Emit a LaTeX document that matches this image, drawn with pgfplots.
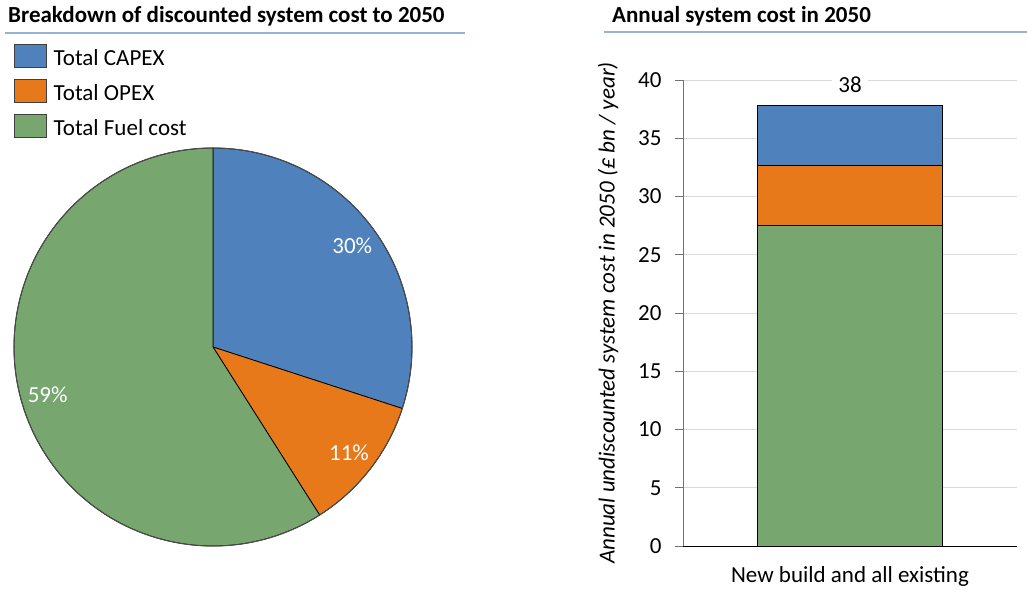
\documentclass[border=0pt]{standalone}
\usepackage{fontspec}
\setmainfont{Carlito}
\usepackage{pgfplots}
\usepackage{pgfplotstable}
\pgfplotsset{compat=1.18}
\definecolor{capex}{HTML}{4F81BD}
\definecolor{opex}{HTML}{E8791A}
\definecolor{fuel}{HTML}{77A66E}
\definecolor{rulec}{HTML}{95B3D7}
\definecolor{gridc}{HTML}{D9D9D9}
\newcommand{\cf}{\fontsize{23bp}{27bp}\selectfont}

\pgfplotstableread{
label share
CAPEX 30
OPEX 11
Fuel 59
}\piedata
\pgfplotstableread{
x fuel opex capex
0 27.5 5.2 5.15
}\bardata

\begin{document}
\begin{tikzpicture}[font=\cf]
\useasboundingbox (0,0) rectangle (1027bp,590bp);
% titles
\node[anchor=base west, inner sep=0, font=\cf\bfseries] at (8bp,567bp) {Breakdown of discounted system cost to 2050};
\draw[rulec, line width=1.5bp] (5bp,557bp) -- (465bp,557bp);
\node[anchor=base west, inner sep=0, font=\cf\bfseries] at (612bp,567bp) {Annual system cost in 2050};
\draw[rulec, line width=1.5bp] (604bp,558bp) -- (1027bp,558bp);

% pie angles from data
\pgfplotstablegetelem{0}{share}\of\piedata \let\sa\pgfplotsretval
\pgfplotstablegetelem{1}{share}\of\piedata \let\sb\pgfplotsretval
\pgfplotstablegetelem{2}{share}\of\piedata \let\sc\pgfplotsretval
\pgfmathsetmacro\aA{90}
\pgfmathsetmacro\aB{90-3.6*\sa}
\pgfmathsetmacro\aC{\aB-3.6*\sb}
\pgfmathsetmacro\aD{\aC-3.6*\sc}
\pgfmathsetmacro\mA{(\aA+\aB)/2}
\pgfmathsetmacro\mB{(\aB+\aC)/2}
\pgfmathsetmacro\mC{(\aC+\aD)/2}

\begin{axis}[at={(213bp,243bp)}, anchor=origin, x=199bp, y=199bp,
  xmin=-1, xmax=1, ymin=-1, ymax=1, hide axis, clip=false,
  legend image code/.code={\draw[#1, line width=0.75bp] (0bp,-7bp) rectangle (32bp,16bp);},
  legend cell align=left,
  legend style={at={(rel axis cs:0,1.2613)}, anchor=north west, draw=none, fill=none,
    inner sep=0pt, outer sep=0pt, row sep=8bp, font=\cf,
    nodes={inner sep=0pt, text height=16bp, text depth=5bp},
    /tikz/every odd column/.style={column sep=7bp}},
]
\addlegendimage{fill=capex, draw=black!75}
\addlegendentry{Total CAPEX}
\addlegendimage{fill=opex, draw=black!75}
\addlegendentry{Total OPEX}
\addlegendimage{fill=fuel, draw=black!75}
\addlegendentry{Total Fuel cost}
\filldraw[fill=capex, draw=black, line width=0.75bp] (axis cs:0,0) -- ++(\aA:199bp) arc[start angle=\aA, end angle=\aB, radius=199bp] -- cycle;
\filldraw[fill=opex, draw=black, line width=0.75bp] (axis cs:0,0) -- ++(\aB:199bp) arc[start angle=\aB, end angle=\aC, radius=199bp] -- cycle;
\filldraw[fill=fuel, draw=black, line width=0.75bp] (axis cs:0,0) -- ++(\aC:199bp) arc[start angle=\aC, end angle=\aD, radius=199bp] -- cycle;
\draw[black!70, line width=1bp] (axis cs:0,0) circle[radius=199bp];
\node[white, font=\cf] at (axis cs:{0.865*cos(\mA)},{0.865*sin(\mA)}) {30\%};
\node[white, font=\cf] at (axis cs:{0.865*cos(\mB)},{0.865*sin(\mB)}) {11\%};
\node[white, font=\cf] at (axis cs:{0.865*cos(\mC)},{0.865*sin(\mC)}) {59\%};
\end{axis}

\begin{axis}[at={(683bp,44bp)}, anchor=south west, scale only axis,
  width=334bp, height=466bp, clip=false,
  ybar stacked, bar width=185bp,
  xmin=-1, xmax=1, ymin=0, ymax=40,
  ytick={0,5,...,40}, xtick={0}, xticklabels={New build and all existing},
  ymajorgrids, grid style={gridc, line width=0.75bp},
  separate axis lines,
  axis x line*=bottom, axis y line*=left,
  x axis line style={-, black, line width=0.9bp},
  y axis line style={-, black!55, line width=0.9bp},
  tick align=outside, major tick length=8bp,
  ytick style={black!55, line width=0.9bp},
  xtick style={draw=none},
  tick label style={font=\cf},
  yticklabel style={xshift=-10bp},
  xticklabel style={yshift=-9bp},
  /pgf/number format/assume math mode=true,
  ylabel={Annual undiscounted system cost in 2050 (£ bn / year)},
  ylabel style={font=\cf\itshape, at={(axis description cs:-0.2246,0.5)}, anchor=center},
]
\addplot[fill=fuel, draw=black, line width=0.75bp] table[x=x, y=fuel] {\bardata};
\addplot[fill=opex, draw=black, line width=0.75bp] table[x=x, y=opex] {\bardata};
\addplot[fill=capex, draw=black, line width=0.75bp] table[x=x, y=capex] {\bardata};
\node[fill=white, inner xsep=6bp, inner ysep=3bp, text height=16bp, text depth=3bp, font=\cf] at (axis cs:0,39.45) {38};
\end{axis}
\end{tikzpicture}
\end{document}
